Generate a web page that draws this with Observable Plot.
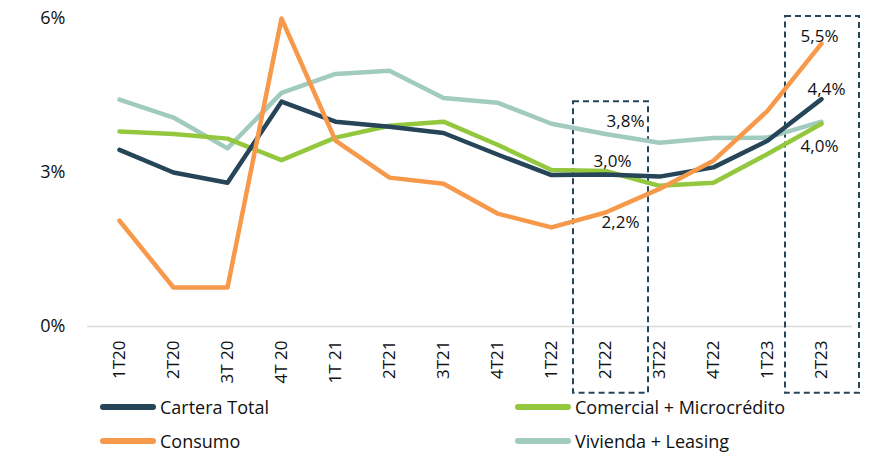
<!DOCTYPE html>
<html>
<head>
<meta charset="utf-8">
<script src="https://cdn.jsdelivr.net/npm/d3@7"></script>
<script src="https://cdn.jsdelivr.net/npm/@observablehq/plot@0.6"></script>
<style>
  body { margin: 0; background: #fff; font-family: "Open Sans", sans-serif; }
  #wrap { position: relative; width: 872px; height: 452px; }
  .leg { position: absolute; display: flex; align-items: center; font-size: 18px; color: #111; }
  .sw { width: 56px; height: 6px; border-radius: 3px; margin-right: 4px; }
</style>
</head>
<body>
<div id="wrap"><div id="chart"></div></div>
<script>
const quarters = ["1T20","2T20","3T20","4T20","1T21","2T21","3T21","4T21","1T22","2T22","3T22","4T22","1T23","2T23"];
const tickLabels = ["1T20","2T20","3T 20","4T 20","1T 21","2T21","3T21","4T21","1T22","2T22","3T22","4T22","1T23","2T23"];
const seriesNames = ["Cartera Total","Comercial + Microcrédito","Consumo","Vivienda + Leasing"];
const carteraTotal = [3.44,3.00,2.80,4.38,3.99,3.89,3.77,3.35,2.95,2.96,2.92,3.10,3.62,4.43];
const comercial    = [3.80,3.75,3.66,3.24,3.68,3.91,3.99,3.54,3.05,3.03,2.74,2.80,3.36,3.95];
const consumo      = [2.06,0.76,0.76,6.00,3.62,2.90,2.78,2.20,1.93,2.22,2.68,3.23,4.20,5.51];
const vivienda     = [4.42,4.07,3.47,4.55,4.92,4.98,4.45,4.36,3.95,3.75,3.58,3.67,3.68,3.99];
const colors = ["#264559","#93C83E","#F7994A","#A0CBBE"];
const yTicks = [0,3,6];
const highlightQ = ["2T22","2T23"];
const highlightTop = [4.38,6.04];
const highlightBottom = -1.3;
const annotQ = ["2T22","2T22","2T22","2T23","2T23","2T23"];
const annotV = [3.75,2.96,2.22,5.51,4.43,3.95];
const annotText = ["3,8%","3,0%","2,2%","5,5%","4,4%","4,0%"];
const annotOffsets = [[20,-12],[7,-13],[15,10],[-2,-7],[5,-10],[-2,23]];
const boxInsets = [[-5,-16],[-9,-11]];

const values = [carteraTotal, comercial, consumo, vivienda];
const drawOrder = [3,1,0,2];
const rows = [];
drawOrder.forEach(si => quarters.forEach((q,i) => rows.push({q, v: values[si][i], s: seriesNames[si]})));

const boxes = highlightQ.map((q,i) => ({q, top: highlightTop[i], bottom: highlightBottom}));
const annots = annotQ.map((q,i) => ({q, v: annotV[i], t: annotText[i]}));
const labelMap = new Map(quarters.map((q,i)=>[q,tickLabels[i]]));

const marks = [
  Plot.ruleY([0], {stroke: "#d9d9d9", strokeWidth: 1.5}),
  Plot.axisY(yTicks, {tickSize: 0, tickPadding: 22, tickFormat: d => d + "%", fontSize: 18, fill: "#111", label: null}),
  Plot.axisX({tickSize: 0, tickRotate: -90, tickPadding: 14, textAnchor: "end", fontSize: 17, fill: "#111", tickFormat: d => labelMap.get(d), label: null})
];
boxes.forEach((b,i) => {
  marks.push(Plot.barY([b], {x: "q", y1: "bottom", y2: "top", fill: "none", stroke: "#264559", strokeWidth: 2, strokeDasharray: "6,4", insetLeft: boxInsets[i][0], insetRight: boxInsets[i][1]}));
});
marks.push(Plot.line(rows, {x: "q", y: "v", z: "s", stroke: "s", strokeWidth: 4.5, strokeLinejoin: "round", strokeLinecap: "round"}));
annots.forEach((a,i) => {
  marks.push(Plot.text([a], {x: "q", y: "v", text: "t", dx: annotOffsets[i][0], dy: annotOffsets[i][1], fontSize: 17, fill: "#111"}));
});

const chart = Plot.plot({
  width: 872,
  height: 396,
  marginLeft: 87,
  marginRight: 20,
  marginTop: 18,
  marginBottom: 70,
  style: {fontFamily: "Open Sans, sans-serif", background: "#fff", overflow: "visible"},
  x: {type: "band", domain: quarters, padding: 0, axis: null},
  y: {domain: [0,6], axis: null},
  color: {domain: seriesNames, range: colors},
  clip: false,
  marks
});
document.getElementById("chart").appendChild(chart);

const legPos = [[100,408],[515,408],[100,442],[515,442]];
const wrap = document.getElementById("wrap");
seriesNames.forEach((name,si) => {
  const d = document.createElement("div");
  d.className = "leg";
  d.style.left = legPos[si][0] + "px";
  d.style.top = (legPos[si][1] - 13) + "px";
  const sw = document.createElement("span");
  sw.className = "sw";
  sw.style.background = colors[si];
  const tx = document.createElement("span");
  tx.textContent = name;
  d.appendChild(sw); d.appendChild(tx);
  wrap.appendChild(d);
});
</script>
</body>
</html>
